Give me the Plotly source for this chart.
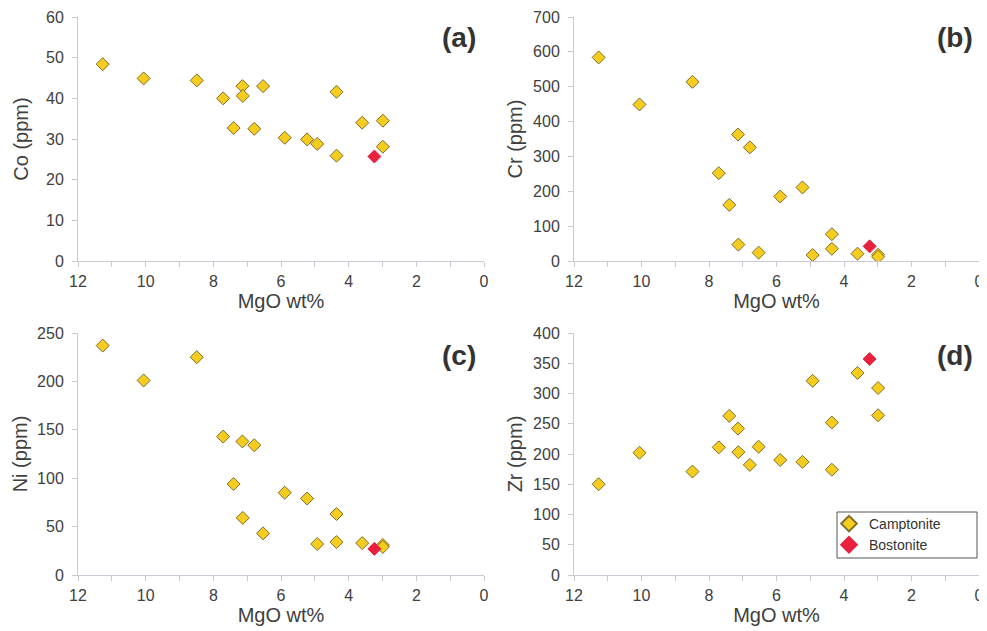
import plotly.graph_objects as go

# Camptonite samples
mgo = [11.27, 10.06, 8.49, 7.71, 7.14, 7.13, 7.40, 6.79, 6.53, 5.89, 5.23, 4.93, 4.36, 4.36, 3.60, 2.99, 2.99]
co = [48.4, 44.9, 44.4, 40.0, 43.0, 40.6, 32.7, 32.5, 43.0, 30.3, 29.9, 28.8, 41.6, 25.9, 34.0, 34.5, 28.1]
cr = [584, 449, 514, 252, 363, 47, 161, 326, 24, 185, 211, 17, 77, 35, 21, 18, 12]
ni = [237, 201, 225, 143, 138, 59, 94, 134, 43, 85, 79, 32, 63, 34, 33, 31, 29]
zr = [150, 202, 171, 211, 242, 203, 263, 182, 212, 190, 187, 321, 252, 174, 334, 309, 264]

# Bostonite sample
b_mgo = [3.24]
b_co = [25.7]
b_cr = [42]
b_ni = [27]
b_zr = [357]

ylabels = ["Co (ppm)", "Cr (ppm)", "Ni (ppm)", "Zr (ppm)"]
panel_tags = ["(a)", "(b)", "(c)", "(d)"]
yranges = [60, 700, 250, 400]
ydticks = [10, 100, 50, 50]
ystandoff = [12, 5, 4, 5]

OFF = 8  # page body margin
W, H = 987 - OFF, 631 - OFF


def px(v):
    return (v - OFF) / W


def py(v):
    return (H - (v - OFF)) / H


xdom = [[px(78), px(484)], [px(574), px(979)]]
ydom = [[py(261), py(17)], [py(575), py(333)]]

YEL = "#F6CD1F"
YEL_LINE = "#7D6E2E"
RED = "#E8213F"
AX = "#C9C9D6"
TXT = "#404040"
FONT = "Liberation Sans, Arial, sans-serif"

fig = go.Figure()
camp = [co, cr, ni, zr]
bost = [b_co, b_cr, b_ni, b_zr]

for i in range(4):
    sfx = "" if i == 0 else str(i + 1)
    fig.add_trace(go.Scatter(
        x=mgo, y=camp[i], mode="markers", name="Camptonite",
        marker=dict(symbol="diamond", size=10, color=YEL, line=dict(color=YEL_LINE, width=1)),
        xaxis="x" + sfx, yaxis="y" + sfx, showlegend=(i == 3)))
    fig.add_trace(go.Scatter(
        x=b_mgo, y=bost[i], mode="markers", name="Bostonite",
        marker=dict(symbol="diamond", size=10, color=RED, line=dict(color=RED, width=1)),
        xaxis="x" + sfx, yaxis="y" + sfx, showlegend=(i == 3)))

layout = dict(
    width=W, height=H, margin=dict(l=0, r=0, t=0, b=0),
    paper_bgcolor="white", plot_bgcolor="white",
    font=dict(family=FONT, color=TXT),
    legend=dict(x=px(829), y=py(508), xanchor="left", yanchor="top",
                borderwidth=0, bgcolor="rgba(0,0,0,0)",
                font=dict(size=14, color="#333333", family=FONT),
                tracegroupgap=0, itemsizing="constant", itemwidth=30),
    shapes=[dict(type="rect", xref="paper", yref="paper",
                 x0=px(837), x1=px(977), y0=py(558), y1=py(512),
                 line=dict(color="#555555", width=1), fillcolor="white", layer="below")],
    annotations=[],
)

for i in range(4):
    col = i % 2
    row = i // 2
    sfx = "" if i == 0 else str(i + 1)
    layout["xaxis" + sfx] = dict(
        domain=xdom[col], anchor="y" + sfx, range=[12, 0], dtick=2, tick0=0,
        showgrid=False, zeroline=False, showline=True, linecolor=AX, linewidth=1,
        ticks="outside", ticklen=5, tickcolor=AX, ticklabelstandoff=1,
        ticklabeloverflow="allow",
        minor=dict(dtick=1, ticks="outside", ticklen=5, tickcolor=AX),
        tickfont=dict(size=16, color=TXT),
        title=dict(text="MgO wt%", font=dict(size=20, color=TXT), standoff=2),
        automargin=False,
    )
    layout["yaxis" + sfx] = dict(
        domain=ydom[row], anchor="x" + sfx, range=[0, yranges[i]], dtick=ydticks[i],
        showgrid=False, zeroline=False, showline=True, linecolor=AX, linewidth=1,
        ticks="outside", ticklen=5, tickcolor=AX, ticklabelstandoff=5,
        tickfont=dict(size=16, color=TXT),
        title=dict(text=ylabels[i], font=dict(size=20, color=TXT), standoff=ystandoff[i]),
        automargin=False,
    )
    layout["annotations"].append(dict(
        text="<b>" + panel_tags[i] + "</b>", xref="paper", yref="paper",
        x=px(478 if col == 0 else 975), y=py(38 if row == 0 else 355),
        xanchor="right", yanchor="middle", showarrow=False,
        font=dict(size=28, color="#333333", family=FONT)))

fig.update_layout(**layout)
fig.write_html("out.html")
